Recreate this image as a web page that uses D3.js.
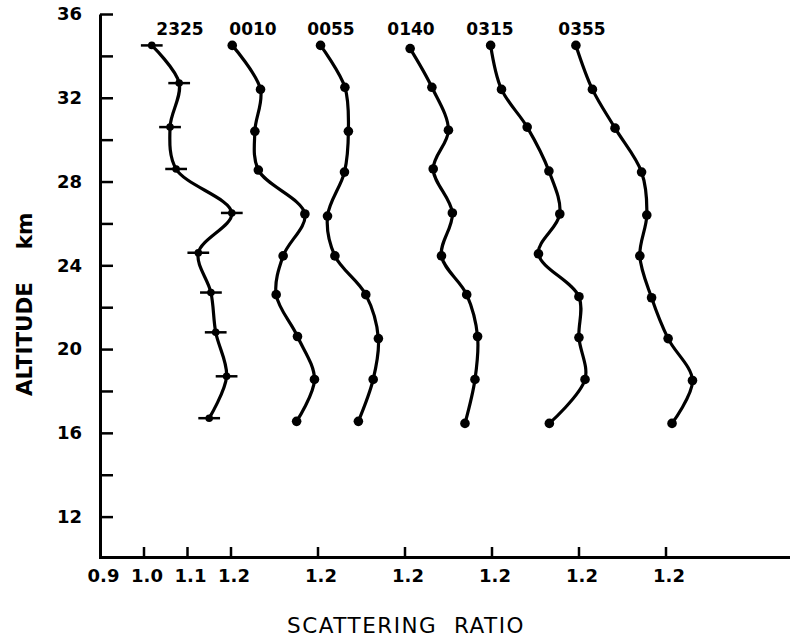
<!DOCTYPE html>
<html>
<head>
<meta charset="utf-8">
<script src="https://cdn.jsdelivr.net/npm/d3@7"></script>
<style>
  html, body { margin: 0; padding: 0; background: #fff; }
  svg { display: block; }
  text { font-family: "DejaVu Sans", sans-serif; fill: #000; }
</style>
</head>
<body>
<svg id="chart" width="790" height="638"></svg>
<script>
// ---- data ----
const profileNames = ["2325", "0010", "0055", "0140", "0315", "0355"];
const profileOffsets = [0, 0.2, 0.4, 0.6, 0.8, 1.0];

const alt2325 = [34.5, 32.7, 30.6, 28.6, 26.5, 24.6, 22.7, 20.8, 18.7, 16.7];
const val2325 = [1.019, 1.082, 1.061, 1.075, 1.203, 1.126, 1.155, 1.166, 1.191, 1.151];

const alt0010 = [34.5, 32.4, 30.4, 28.55, 26.45, 24.45, 22.6, 20.6, 18.55, 16.55];
const val0010 = [1.004, 1.069, 1.056, 1.064, 1.171, 1.121, 1.105, 1.154, 1.193, 1.152];

const alt0055 = [34.5, 32.5, 30.4, 28.45, 26.35, 24.45, 22.6, 20.5, 18.55, 16.55];
const val0055 = [1.007, 1.063, 1.071, 1.062, 1.023, 1.040, 1.111, 1.140, 1.128, 1.094];

const alt0140 = [34.35, 32.5, 30.45, 28.6, 26.5, 24.45, 22.6, 20.6, 18.55, 16.45];
const val0140 = [1.013, 1.063, 1.101, 1.066, 1.110, 1.085, 1.143, 1.168, 1.162, 1.139];

const alt0315 = [34.5, 32.4, 30.6, 28.5, 26.45, 24.55, 22.5, 20.55, 18.55, 16.45];
const val0315 = [0.998, 1.023, 1.082, 1.132, 1.157, 1.108, 1.201, 1.201, 1.215, 1.133];

const alt0355 = [34.5, 32.4, 30.55, 28.45, 26.4, 24.45, 22.45, 20.5, 18.5, 16.45];
const val0355 = [0.994, 1.032, 1.084, 1.145, 1.157, 1.141, 1.168, 1.206, 1.262, 1.215];

const errHalf2325 = 0.025;

const xTickValues = [0.9, 1.0, 1.1, 1.2, 1.4, 1.6, 1.8, 2.0, 2.2];
const xTickLabels = ["0.9", "1.0", "1.1", "1.2", "1.2", "1.2", "1.2", "1.2", "1.2"];
const yTickValues = [12, 14, 16, 18, 20, 22, 24, 26, 28, 30, 32, 34, 36];
const yLabelled = [12, 16, 20, 24, 28, 32, 36];

const xTitle = "SCATTERING  RATIO";
const yTitleWord = "ALTITUDE";
const yTitleUnit = "km";

// ---- build ----
const alts = [alt2325, alt0010, alt0055, alt0140, alt0315, alt0355];
const vals = [val2325, val0010, val0055, val0140, val0315, val0355];
const profiles = profileNames.map((n, i) => ({
  name: n, offset: profileOffsets[i],
  pts: vals[i].map((v, j) => ({ v: v, a: alts[i][j], off: profileOffsets[i] }))
}));

const svg = d3.select("#chart");
const x = d3.scaleLinear().domain([0.9, 0.9 + 690 / 435]).range([100, 790]);
const y = d3.scaleLinear().domain([10, 36]).range([558.5, 14]);

const FONT = "DejaVu Sans, sans-serif";

// y axis
const yAxis = d3.axisLeft(y)
  .tickValues(yTickValues)
  .tickSizeInner(-13).tickSizeOuter(0).tickPadding(18)
  .tickFormat(d => yLabelled.includes(d) ? String(d) : "");
const gy = svg.append("g").attr("transform", "translate(100,0)").call(yAxis);
gy.select(".domain").attr("stroke-width", 3).attr("stroke", "#000");
gy.selectAll(".tick line").attr("stroke-width", 2.5).attr("stroke", "#000");
gy.selectAll(".tick text")
  .attr("font-size", 18).attr("font-weight", "bold")
  .attr("font-family", FONT).attr("fill", "#000");

// x axis
const xAxis = d3.axisBottom(x)
  .tickValues(xTickValues)
  .tickSizeInner(-10).tickSizeOuter(0).tickPadding(12)
  .tickFormat((d, i) => xTickLabels[i]);
const gx = svg.append("g").attr("transform", "translate(0,557)").call(xAxis);
gx.select(".domain").attr("stroke-width", 3).attr("stroke", "#000");
gx.selectAll(".tick line").attr("stroke-width", 2.5).attr("stroke", "#000");
gx.selectAll(".tick text")
  .attr("font-size", 18).attr("font-weight", "bold").attr("dx", 3)
  .attr("font-family", FONT).attr("fill", "#000");

// titles
svg.append("text")
  .attr("x", 406).attr("y", 633)
  .attr("text-anchor", "middle")
  .attr("font-size", 21.5)
  .attr("letter-spacing", 1.5)
  .attr("xml:space", "preserve")
  .style("white-space", "pre")
  .text(xTitle);

svg.append("text")
  .attr("transform", "translate(32,339) rotate(-90)")
  .attr("text-anchor", "middle")
  .attr("font-size", 21.5).attr("font-weight", "bold")
  .text(yTitleWord);
svg.append("text")
  .attr("transform", "translate(32,231) rotate(-90)")
  .attr("text-anchor", "middle")
  .attr("font-size", 21.5).attr("font-weight", "bold")
  .text(yTitleUnit);

// profiles
const line = d3.line()
  .x(d => x(d.v + d.off))
  .y(d => y(d.a))
  .curve(d3.curveCatmullRom.alpha(0.5));

profiles.forEach((p, i) => {
  const g = svg.append("g");
  g.append("path").attr("d", line(p.pts))
    .attr("fill", "none").attr("stroke", "#000").attr("stroke-width", 3.2)
    .attr("stroke-linejoin", "round").attr("stroke-linecap", "round");
  if (i === 0) {
    g.selectAll("line.err").data(p.pts).enter().append("line")
      .attr("x1", d => x(d.v + d.off - errHalf2325))
      .attr("x2", d => x(d.v + d.off + errHalf2325))
      .attr("y1", d => y(d.a)).attr("y2", d => y(d.a))
      .attr("stroke", "#000").attr("stroke-width", 2.5);
    g.selectAll("circle").data(p.pts).enter().append("circle")
      .attr("cx", d => x(d.v + d.off)).attr("cy", d => y(d.a)).attr("r", 3.8)
      .attr("fill", "#000");
  } else {
    g.selectAll("circle").data(p.pts).enter().append("circle")
      .attr("cx", d => x(d.v + d.off)).attr("cy", d => y(d.a)).attr("r", 4.8)
      .attr("fill", "#000");
  }
});

// profile time labels
const labelX = [180, 253, 331, 411, 490, 582];
svg.selectAll("text.plabel").data(profiles).enter().append("text")
  .attr("class", "plabel")
  .attr("x", (d, i) => labelX[i]).attr("y", 35)
  .attr("text-anchor", "middle")
  .attr("font-size", 17).attr("font-weight", "bold")
  .text(d => d.name);
</script>
</body>
</html>
